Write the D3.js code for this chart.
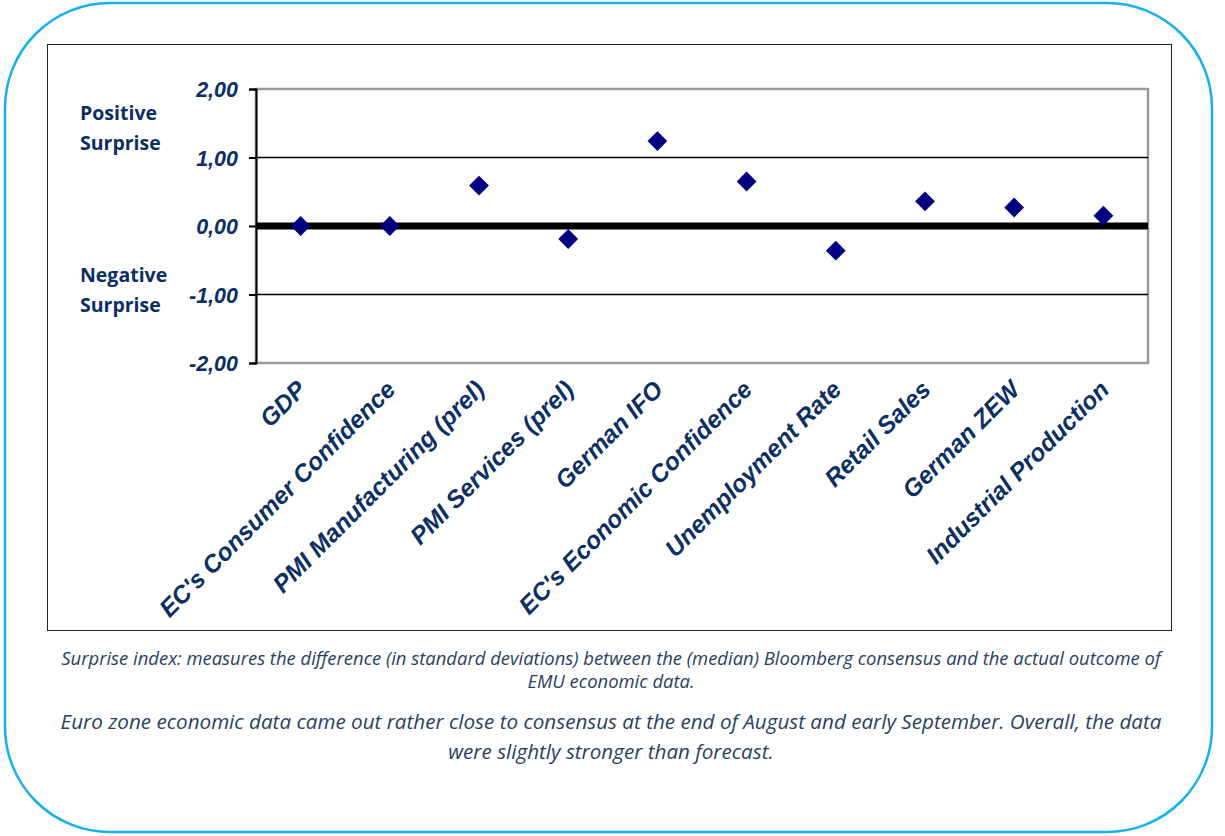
<!DOCTYPE html>
<html><head><meta charset="utf-8">
<script src="https://cdn.jsdelivr.net/npm/d3@7"></script>
<style>
body{margin:0;background:#fff;}
svg{display:block;}
</style></head>
<body>
<svg id="c" width="1225" height="836"></svg>
<script>
const categories = ["GDP","EC's Consumer Confidence","PMI Manufacturing (prel)","PMI Services (prel)","German IFO","EC's Economic Confidence","Unemployment Rate","Retail Sales","German ZEW","Industrial Production"];
const values = [0.0, 0.0, 0.59, -0.19, 1.24, 0.65, -0.36, 0.36, 0.27, 0.15];
const yTicks = [-2, -1, 0, 1, 2];
const sideLabels = [["Positive","Surprise"],["Negative","Surprise"]];
const captions = [
  ["Surprise index: measures the difference (in standard deviations) between the (median) Bloomberg consensus and the actual outcome of","EMU economic data."],
  ["Euro zone economic data came out rather close to consensus at the end of August and early September. Overall, the data","were slightly stronger than forecast."]
];

const svg = d3.select("#c");
const navy = "#0c2f63";

// outer rounded border
svg.append("rect").attr("x",5).attr("y",3).attr("width",1207).attr("height",829)
  .attr("rx",105).attr("ry",105).attr("fill","none").attr("stroke","#16b0ec").attr("stroke-width",2.5);

// chart frame
svg.append("rect").attr("x",47.5).attr("y",44.5).attr("width",1124).attr("height",586)
  .attr("fill","#fff").attr("stroke","#222").attr("stroke-width",1);

const L=256, R=1148, T=89, B=363;
const x = d3.scaleBand().domain(categories).range([L,R]).paddingInner(0).paddingOuter(0);
const y = d3.scaleLinear().domain([-2,2]).range([B,T]);

// plot border (gray)
svg.append("rect").attr("x",L).attr("y",T).attr("width",R-L).attr("height",B-T)
  .attr("fill","none").attr("stroke","#9a9a9a").attr("stroke-width",2.5);

// grid lines
svg.append("g").selectAll("line").data(yTicks.filter(d=>d!==0 && Math.abs(d)!==2)).join("line")
  .attr("x1",L).attr("x2",R).attr("y1",d=>y(d)).attr("y2",d=>y(d))
  .attr("stroke","#000").attr("stroke-width",1.5);

// zero line
svg.append("line").attr("x1",L).attr("x2",R).attr("y1",y(0)).attr("y2",y(0))
  .attr("stroke","#000").attr("stroke-width",7);

// y axis
const yAxis = d3.axisLeft(y).tickValues(yTicks).tickSize(7).tickPadding(11)
  .tickFormat(d=>d3.format(".2f")(d).replace(".",",").replace("\u2212","-"));
const ga = svg.append("g").attr("transform",`translate(${L},0)`).call(yAxis);
ga.select(".domain").attr("stroke","#000").attr("stroke-width",2);
ga.selectAll(".tick line").attr("stroke","#000").attr("stroke-width",2);
ga.selectAll(".tick text").attr("fill",navy).attr("font-family","Liberation Sans, Arial, sans-serif")
  .attr("font-weight","bold").attr("font-style","italic").attr("font-size",21.5).attr("dy","0.35em");

// side labels
const sidePos = [[113,143],[275,305]];
sideLabels.forEach((lines,i)=>{
  lines.forEach((t,j)=>{
    svg.append("text").attr("x",80).attr("y",sidePos[i][j]).attr("dy","0.35em")
      .attr("fill",navy).attr("font-family","Open Sans, sans-serif").attr("font-weight","bold")
      .attr("font-size",19.5).text(t);
  });
});

// markers
svg.append("g").selectAll("path").data(values).join("path")
  .attr("d", d3.symbol().type(d3.symbolDiamond2).size(250))
  .attr("transform",(d,i)=>`translate(${x(categories[i])+x.bandwidth()/2},${y(d)})`)
  .attr("fill","#000080");

// category labels
svg.append("g").selectAll("text").data(categories).join("text")
  .attr("transform",d=>`translate(${x(d)+x.bandwidth()/2+1},${B+22}) rotate(-45)`)
  .attr("text-anchor","end").attr("dy","0.35em")
  .attr("fill",navy).attr("font-family","Liberation Sans, Arial, sans-serif")
  .attr("font-weight","bold").attr("font-style","italic").attr("font-size",24.5)
  .text(d=>d);

// captions
const capY = [[659,682],[722,752]];
const capSize = [14.5,18];
const capWidth = [1100,1102];
captions.forEach((lines,i)=>{
  lines.forEach((t,j)=>{
    const tx = svg.append("text").attr("x",611).attr("y",capY[i][j]).attr("dy","0.35em")
      .attr("text-anchor","middle").attr("fill","#2a3f5f")
      .attr("font-family","Open Sans, sans-serif").attr("font-style","italic")
      .attr("font-size",capSize[i]).text(t);
    if(j===0){
      const w = tx.node().getComputedTextLength();
      const fs = capSize[i]*capWidth[i]/w;
      capSize[i]=fs; tx.attr("font-size",fs);
    }
  });
});
</script>
</body></html>
